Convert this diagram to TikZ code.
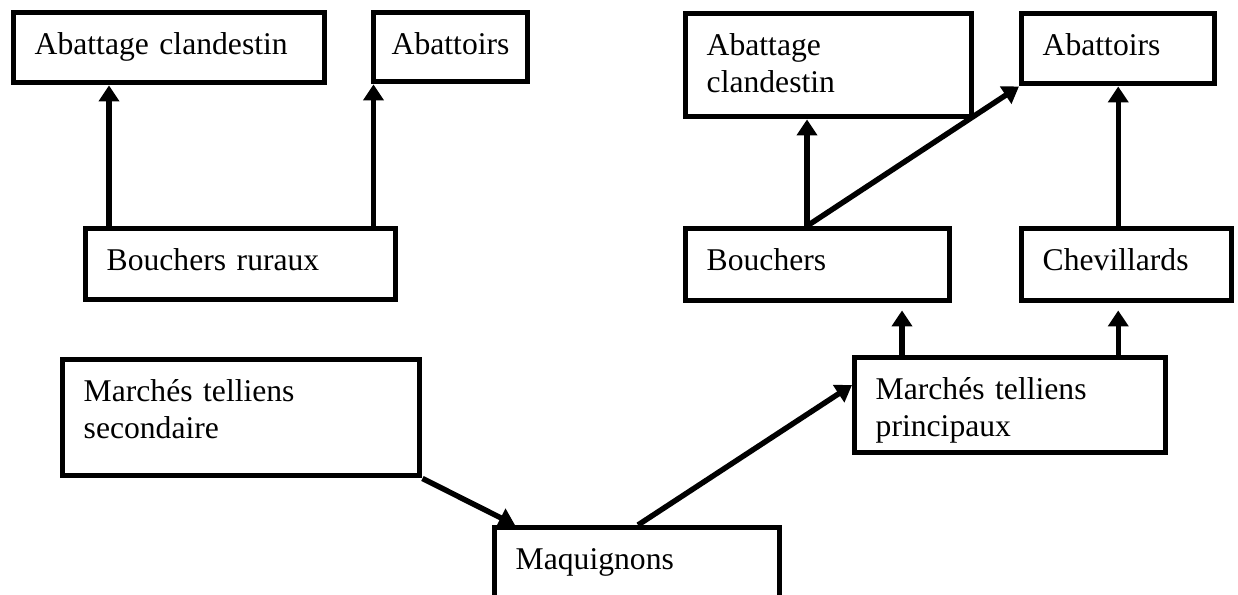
\documentclass[tikz,border=0pt]{standalone}
\usepackage{fontspec}
\setmainfont{Liberation Serif}
\usetikzlibrary{arrows.meta}

\begin{document}
\begin{tikzpicture}[
    box/.style={draw, line width=3.1pt, anchor=north west, inner xsep=0.42cm, inner ysep=0pt,
        align=left, text height=0.84cm, font=\fontsize{18}{21}\selectfont},
    arr/.style={line width=3.1pt, -{Triangle[length=0.32cm,width=0.4cm]}}]
    \useasboundingbox (0,0) rectangle (24.76,-11.9);
    % upper left
    \node[box, text width=5.38cm, text depth=0.56cm] (clandL) at (0.22,-0.20) {Abattage clandestin};
    \node[box, text width=2.36cm, inner xsep=0.36cm, text depth=0.54cm] (abattL) at (7.42,-0.20) {Abattoirs};
    \node[box, text width=5.36cm, text depth=0.58cm] (ruraux) at (1.66,-4.52) {Bouchers ruraux};
    % upper right
    \node[box, text width=4.88cm, text depth=1.22cm] (clandR) at (13.66,-0.22) {Abattage\\clandestin};
    \node[box, text width=3.02cm, text depth=0.56cm] (abattR) at (20.38,-0.22) {Abattoirs};
    \node[box, text width=4.44cm, text depth=0.60cm] (bouch) at (13.66,-4.52) {Bouchers};
    \node[box, text width=3.36cm, text depth=0.60cm] (chev) at (20.38,-4.52) {Chevillards};
    % markets
    \node[box, text width=6.30cm, text depth=1.48cm] (sec) at (1.20,-7.14) {Marchés telliens\\secondaire};
    \node[box, text width=5.38cm, text depth=1.06cm] (princ) at (17.04,-7.10) {Marchés telliens\\principaux};
    \node[box, text width=4.86cm, text depth=1.60cm] (maq) at (9.84,-10.50) {Maquignons};

    \draw[arr] ([xshift=0.52cm]ruraux.north west) -- ([xshift=0.52cm]ruraux.north west |- clandL.south);
    \draw[arr] ([xshift=0.05cm]abattL.south west |- ruraux.north) -- ([xshift=0.05cm]abattL.south west);
    \draw[arr] ([xshift=2.48cm]bouch.north west) -- ([xshift=2.48cm]bouch.north west |- clandR.south);
    \draw[arr] ([xshift=2.48cm]bouch.north west) -- (abattR.south west);
    \draw[arr] (chev.north -| abattR.south) -- (abattR.south);
    \draw[arr, shorten >=0.14cm] ([xshift=1.0cm]princ.north west) -- ([xshift=1.0cm]princ.north west |- bouch.south);
    \draw[arr, shorten >=0.14cm] (princ.north -| abattR.south) -- (chev.south -| abattR.south);
    \draw[arr] (sec.south east) -- ([xshift=0.46cm]maq.north west);
    \draw[arr] ([xshift=2.92cm]maq.north west) -- ([yshift=-0.6cm]princ.north west);
\end{tikzpicture}
\end{document}
